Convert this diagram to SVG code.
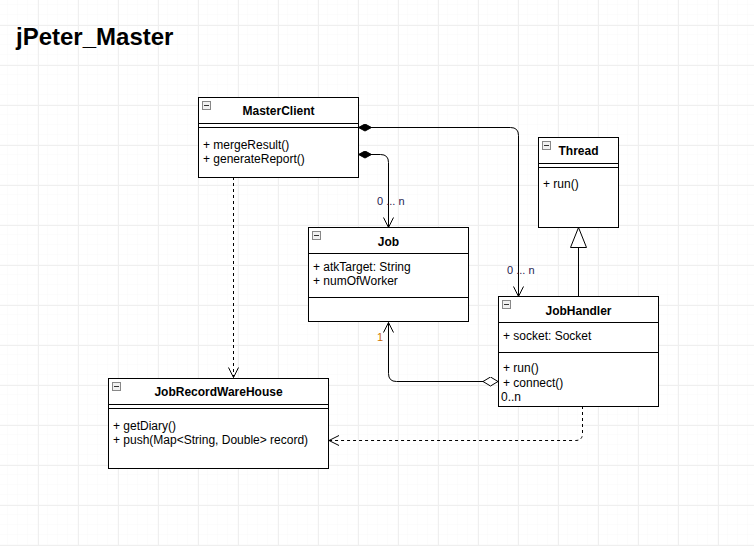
<svg xmlns="http://www.w3.org/2000/svg" width="754" height="546" viewBox="0 0 754 546">
<defs>
<pattern id="minor" x="-2" y="5" width="10" height="10" patternUnits="userSpaceOnUse">
<path d="M10 0V10M0 10H10" fill="none" stroke="#f8f8f8" stroke-width="1"/>
</pattern>
<pattern id="major" x="-2" y="25" width="40" height="40" patternUnits="userSpaceOnUse">
<path d="M0.5 0V40M0 0.5H40" fill="none" stroke="#efefef" stroke-width="1"/>
</pattern>
<marker id="open" viewBox="0 0 12 12" refX="11" refY="6" markerWidth="12" markerHeight="12" markerUnits="userSpaceOnUse" orient="auto">
<path d="M1 1L11 6L1 11" fill="none" stroke="#000" stroke-width="1"/>
</marker>
<marker id="fdia" viewBox="0 0 14 8" refX="0.5" refY="4" markerWidth="14" markerHeight="8" markerUnits="userSpaceOnUse" orient="auto">
<path d="M0.5 4L7 0.5L13.5 4L7 7.5Z" fill="#000" stroke="#000"/>
</marker>
<marker id="odia" viewBox="0 0 16 10" refX="0.5" refY="5" markerWidth="16" markerHeight="10" markerUnits="userSpaceOnUse" orient="auto">
<path d="M0.5 5L8 0.5L15.5 5L8 9.5Z" fill="#fff" stroke="#000"/>
</marker>
<marker id="tri" viewBox="0 0 22 18" refX="21" refY="9" markerWidth="22" markerHeight="18" markerUnits="userSpaceOnUse" orient="auto">
<path d="M21 9L1 1L1 17Z" fill="#fff" stroke="#000"/>
</marker>
<g id="mini">
<rect x="0.5" y="0.5" width="8" height="8" fill="#f0f0f0" stroke="#888"/>
<path d="M2 4.5H7" stroke="#333" stroke-width="1"/>
</g>
</defs>
<style>
.box{fill:#fff;stroke:#000;stroke-width:1}
.ln{stroke:#000;stroke-width:1;fill:none}
.t{font-family:"Liberation Sans",Arial,sans-serif;font-size:12px;fill:#000}
.h{font-family:"Liberation Sans",Arial,sans-serif;font-size:12px;font-weight:bold;fill:#000;text-anchor:middle}
.lbl{font-family:"Liberation Sans",Arial,sans-serif;font-size:11px;fill:#261a50}
.c{stroke:#000;stroke-width:1;fill:none}
.d{stroke:#000;stroke-width:1;fill:none;stroke-dasharray:3 3}
</style>
<rect width="754" height="546" fill="#fff"/>
<rect width="754" height="546" fill="url(#minor)"/>
<rect width="754" height="546" fill="url(#major)"/>
<text x="16" y="45" font-family="Liberation Sans,Arial,sans-serif" font-size="24" font-weight="bold" fill="#000">jPeter_Master</text>

<g id="connectors">
<path class="c" d="M358.5 127.5H510.5Q518.5 127.5 518.5 135.5V296.5" marker-start="url(#fdia)" marker-end="url(#open)"/>
<text class="lbl" x="507" y="274">0 ... n</text>
<path class="c" d="M358.5 154.5H380.5Q388.5 154.5 388.5 162.5V227.5" marker-start="url(#fdia)" marker-end="url(#open)"/>
<text class="lbl" x="377" y="205">0 ... n</text>
<path class="c" d="M578.5 297V227.5" marker-end="url(#tri)"/>
<path class="c" d="M498 381.5H396.5Q388.5 381.5 388.5 373.5V322.5" marker-start="url(#odia)" marker-end="url(#open)"/>
<text x="377" y="341" font-family="Liberation Sans,Arial,sans-serif" font-size="11" fill="#cc7000">1</text>
<path class="d" d="M233.5 177V377.5" marker-end="url(#open)"/>
<path class="d" d="M582.5 406V433.5Q582.5 440.5 575.5 440.5H329" marker-end="url(#open)"/>
</g>

<g id="MasterClient">
<rect class="box" x="198.5" y="97.5" width="160" height="80"/>
<path class="ln" d="M198.5 123.5H358.5M198.5 127.5H358.5"/>
<use href="#mini" x="202" y="101"/>
<text class="h" x="278.5" y="115">MasterClient</text>
<text class="t" x="203" y="149">+ mergeResult()</text>
<text class="t" x="203" y="163">+ generateReport()</text>
</g>

<g id="Thread">
<rect class="box" x="538.5" y="137.5" width="80" height="90"/>
<path class="ln" d="M538.5 163.5H618.5M538.5 167.5H618.5"/>
<use href="#mini" x="542" y="141"/>
<text class="h" x="578.5" y="155">Thread</text>
<text class="t" x="543" y="188">+ run()</text>
</g>

<g id="Job">
<rect class="box" x="308.5" y="227.5" width="160" height="94"/>
<path class="ln" d="M308.5 253.5H468.5M308.5 297.5H468.5"/>
<use href="#mini" x="312" y="231"/>
<text class="h" x="388.5" y="246">Job</text>
<text class="t" x="313" y="271">+ atkTarget: String</text>
<text class="t" x="313" y="285">+ numOfWorker</text>
</g>

<g id="JobHandler">
<rect class="box" x="498.5" y="296.5" width="160" height="110"/>
<path class="ln" d="M498.5 322.5H658.5M498.5 352.5H658.5"/>
<use href="#mini" x="502" y="300"/>
<text class="h" x="578.5" y="315">JobHandler</text>
<text class="t" x="503" y="340">+ socket: Socket</text>
<text class="t" x="503" y="372">+ run()</text>
<text class="t" x="503" y="387">+ connect()</text>
<text class="t" x="501" y="401" font-size="11">0..n</text>
</g>

<g id="JobRecordWareHouse">
<rect class="box" x="108.5" y="378.5" width="220" height="90"/>
<path class="ln" d="M108.5 404.5H328.5M108.5 408.5H328.5"/>
<use href="#mini" x="112" y="382"/>
<text class="h" x="218.5" y="396">JobRecordWareHouse</text>
<text class="t" x="113" y="430">+ getDiary()</text>
<text class="t" x="113" y="444">+ push(Map&lt;String, Double&gt; record)</text>
</g>
</svg>
